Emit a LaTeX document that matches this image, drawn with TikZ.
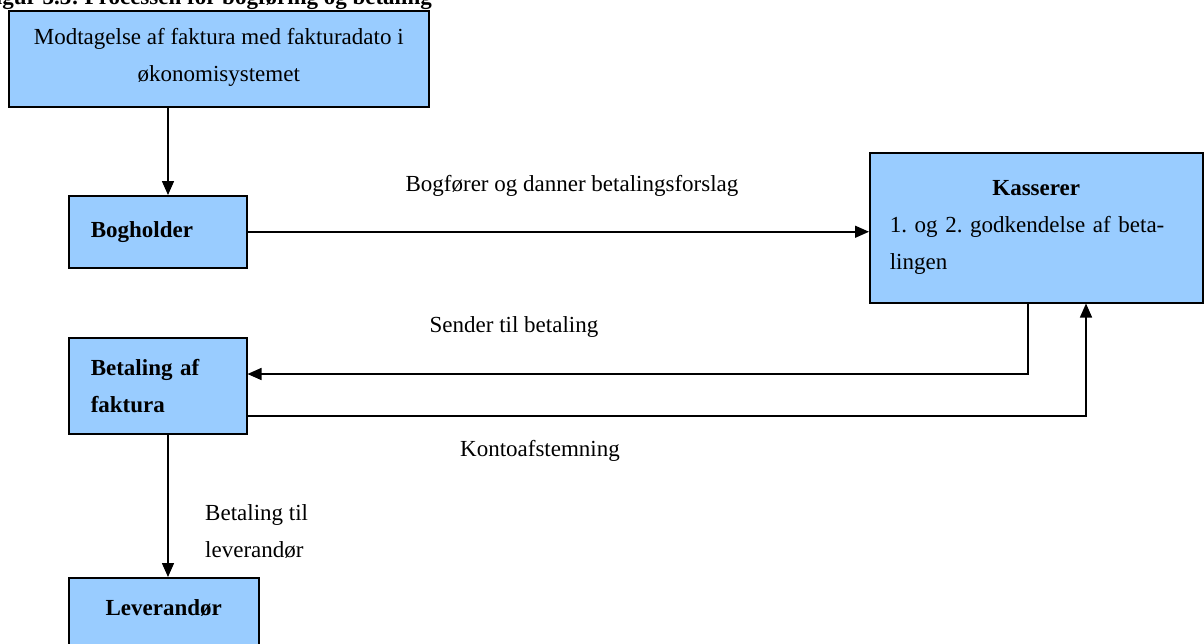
\documentclass[tikz,border=0pt]{standalone}
\usepackage{fontspec}
\setmainfont{Liberation Serif}
\usetikzlibrary{arrows.meta}
\definecolor{boxblue}{RGB}{153,204,255}
\begin{document}
\frenchspacing
\begin{tikzpicture}[x=1pt,y=-1pt,
  every node/.style={font=\fontsize{23}{37}\selectfont},
  box/.style={draw=black, line width=1.5pt, fill=boxblue, inner sep=0pt},
  arr/.style={line width=1.5pt, -{Triangle[length=14pt,width=12pt]}},
  lbl/.style={inner sep=0pt}]
\useasboundingbox (0,0) rectangle (1204,643);
\clip (0,0) rectangle (1204,643);
% title (cut off at top, as in the reference)
\node[anchor=base east, inner sep=0pt, font=\fontsize{23}{37}\selectfont\bfseries] (title) at (432,4) {Figur 3.3: Processen for bogføring og betaling};
% boxes
\node[box, anchor=north west, minimum width=420, minimum height=96, align=center, text depth=8pt] (top) at (8,10)
  {Modtagelse af faktura med fakturadato i\\økonomisystemet};
\node[box, anchor=north west, minimum width=178, minimum height=72, inner xsep=22pt, text width=134pt, align=left, font=\fontsize{23}{37}\selectfont\bfseries] (bog) at (68,195) {Bogholder};
\node[box, anchor=north west, minimum width=333, minimum height=150, inner xsep=20pt, text width=293pt, align=left] (kas) at (869,152)
  {\makebox[293pt]{\bfseries Kasserer}\\1. og 2. godkendelse af beta-\\lingen};
\node[box, anchor=north west, minimum width=178, minimum height=96, inner xsep=22pt, text width=134pt, align=left, font=\fontsize{23}{37}\selectfont\bfseries] (bet) at (68,337) {Betaling af\\faktura};
\node[box, anchor=north west, minimum width=190, minimum height=80, text depth=20pt, font=\fontsize{23}{37}\selectfont\bfseries] (lev) at (68,577) {Leverandør};
% helper coordinates
\coordinate (c1) at (168,0);
\coordinate (k1) at (1028,374);
\coordinate (k2) at (1086,416);
% connectors
\draw[arr] (top.south -| c1) -- (bog.north -| c1);
\draw[arr] (bog.east) -- (bog.east -| kas.west);
\draw[arr] (kas.south -| k1) -- (k1) -- (k1 -| bet.east);
\draw[arr] (k2 -| bet.east) -- (k2) -- (kas.south -| k2);
\draw[arr] (bet.south -| c1) -- (lev.north -| c1);
% labels
\node[lbl] (l1) at (572,186) {Bogfører og danner betalingsforslag};
\node[lbl] (l2) at (514,327) {Sender til betaling};
\node[lbl] (l3) at (540,451) {Kontoafstemning};
\node[lbl, anchor=west, align=left] (l4) at (205,531) {Betaling til\\leverandør};
\end{tikzpicture}
\end{document}
